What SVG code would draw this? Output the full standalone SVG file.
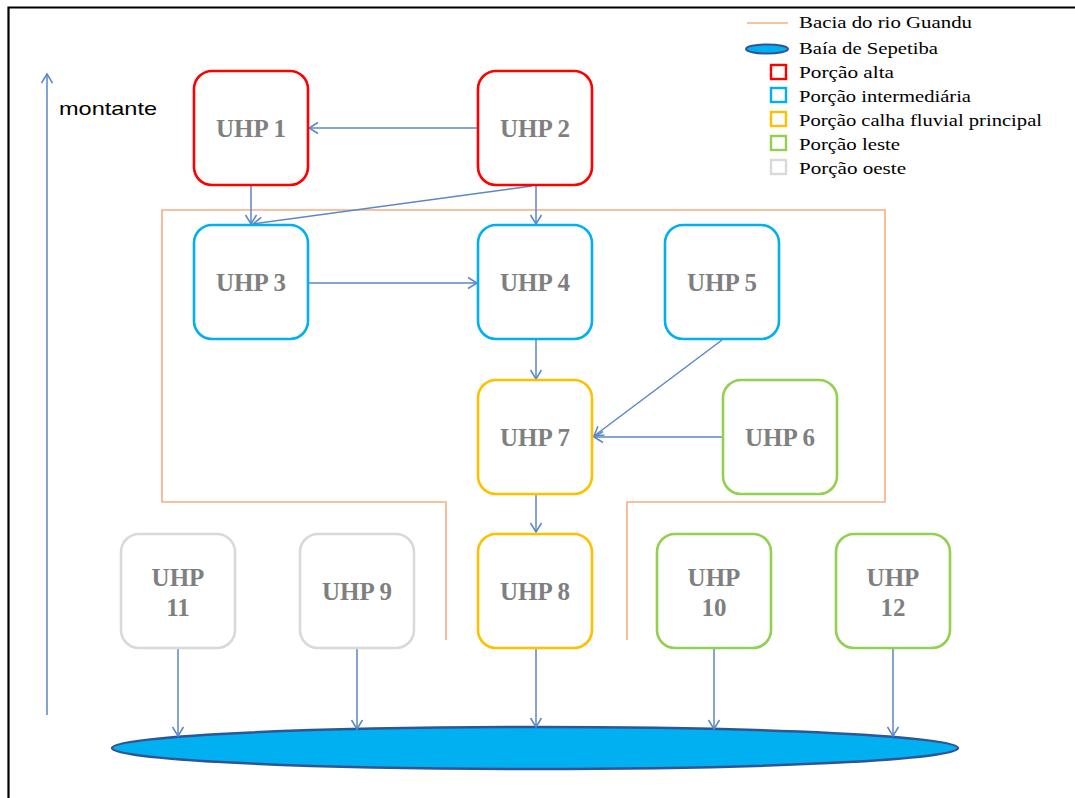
<svg xmlns="http://www.w3.org/2000/svg" width="1075" height="798" viewBox="0 0 1075 798">
<defs>
<style>
.node{fill:#fff;stroke-width:2.6}
.red{stroke:#FF0000}.blue{stroke:#00B0F0}.yel{stroke:#FFC000}.grn{stroke:#92D050}.gry{stroke:#D9D9D9}
.lbl{font-family:"Liberation Serif","Times New Roman",serif;font-weight:bold;font-size:25px;fill:#7F7F7F;text-anchor:middle}
.leg{font-family:"Liberation Serif","Times New Roman",serif;font-size:17px;fill:#000}
.con{stroke:#5A87C8;stroke-width:1.5;fill:none;marker-end:url(#ah)}
.sq{fill:#fff;stroke-width:2.4}
</style>
<marker id="ah" markerUnits="userSpaceOnUse" markerWidth="14" markerHeight="14" viewBox="-12 -7 14 14" refX="0" refY="0" orient="auto">
<path d="M-9,-5.5 L0,0 L-9,5.5" fill="none" stroke="#5A87C8" stroke-width="1.5"/>
</marker>
</defs>
<rect width="1075" height="798" fill="#fff"/>
<g id="frame" stroke="#000" stroke-width="2.2" fill="none">
<path d="M8.5,798 L8.5,7.5 L1075,7.5"/>
</g>
<g id="basin" fill="none" stroke="#F8AE80" stroke-width="1.6">
<path d="M446,640 L446,502 L162,502 L162,210 L885,210 L885,502 L627,502 L627,640"/>
</g>
<g id="montante">
<line x1="47" y1="715" x2="47" y2="74" class="con"/>
<text x="59" y="115" font-family="'Liberation Sans',Arial,sans-serif" font-size="19" fill="#000" textLength="98" lengthAdjust="spacingAndGlyphs">montante</text>
</g>
<g id="bay">
<ellipse cx="535" cy="748" rx="423" ry="21" fill="#00B0F0" stroke="#2F5597" stroke-width="2.5"/>
</g>
<g id="connectors">
<line class="con" x1="478" y1="128" x2="309" y2="128"/>
<line class="con" x1="251" y1="185" x2="251" y2="224"/>
<line class="con" x1="532" y1="186" x2="253" y2="224"/>
<line class="con" x1="536" y1="186" x2="536" y2="224"/>
<line class="con" x1="308" y1="283" x2="477" y2="283"/>
<line class="con" x1="536" y1="339" x2="536" y2="379"/>
<line class="con" x1="722" y1="340" x2="594" y2="436"/>
<line class="con" x1="723" y1="437" x2="594" y2="437"/>
<line class="con" x1="536" y1="494" x2="536" y2="532"/>
<line class="con" x1="178" y1="648" x2="178" y2="736"/>
<line class="con" x1="357" y1="648" x2="357" y2="729"/>
<line class="con" x1="536" y1="648" x2="536" y2="727"/>
<line class="con" x1="714" y1="648" x2="714" y2="729"/>
<line class="con" x1="893" y1="648" x2="893" y2="736"/>
</g>
<g id="uhp1"><rect class="node red" x="194" y="71" width="114" height="114" rx="18"/><text class="lbl" x="251" y="137">UHP 1</text></g>
<g id="uhp2"><rect class="node red" x="478" y="71" width="114" height="114" rx="18"/><text class="lbl" x="535" y="137">UHP 2</text></g>
<g id="uhp3"><rect class="node blue" x="194" y="225" width="114" height="114" rx="18"/><text class="lbl" x="251" y="291">UHP 3</text></g>
<g id="uhp4"><rect class="node blue" x="478" y="225" width="114" height="114" rx="18"/><text class="lbl" x="535" y="291">UHP 4</text></g>
<g id="uhp5"><rect class="node blue" x="665" y="225" width="114" height="114" rx="18"/><text class="lbl" x="722" y="291">UHP 5</text></g>
<g id="uhp7"><rect class="node yel" x="478" y="380" width="114" height="114" rx="18"/><text class="lbl" x="535" y="446">UHP 7</text></g>
<g id="uhp6"><rect class="node grn" x="723" y="380" width="114" height="114" rx="18"/><text class="lbl" x="780" y="446">UHP 6</text></g>
<g id="uhp8"><rect class="node yel" x="478" y="534" width="114" height="114" rx="18"/><text class="lbl" x="535" y="600">UHP 8</text></g>
<g id="uhp11"><rect class="node gry" x="121" y="534" width="114" height="114" rx="18"/><text class="lbl" x="178" y="586">UHP</text><text class="lbl" x="178" y="616">11</text></g>
<g id="uhp9"><rect class="node gry" x="300" y="534" width="114" height="114" rx="18"/><text class="lbl" x="357" y="600">UHP 9</text></g>
<g id="uhp10"><rect class="node grn" x="657" y="534" width="114" height="114" rx="18"/><text class="lbl" x="714" y="586">UHP</text><text class="lbl" x="714" y="616">10</text></g>
<g id="uhp12"><rect class="node grn" x="836" y="534" width="114" height="114" rx="18"/><text class="lbl" x="893" y="586">UHP</text><text class="lbl" x="893" y="616">12</text></g>
<g id="legend">
<line x1="747" y1="23" x2="788" y2="23" stroke="#F8AE80" stroke-width="1.6"/>
<text class="leg" x="799" y="28" textLength="173" lengthAdjust="spacingAndGlyphs">Bacia do rio Guandu</text>
<ellipse cx="767" cy="49" rx="21" ry="4.5" fill="#00B0F0" stroke="#2F5597" stroke-width="2"/>
<text class="leg" x="799" y="54" textLength="139" lengthAdjust="spacingAndGlyphs">Baía de Sepetiba</text>
<rect class="sq red" x="771" y="65" width="15" height="14"/>
<text class="leg" x="799" y="78" textLength="95" lengthAdjust="spacingAndGlyphs">Porção alta</text>
<rect class="sq blue" x="771" y="88" width="15" height="14"/>
<text class="leg" x="799" y="102" textLength="172" lengthAdjust="spacingAndGlyphs">Porção intermediária</text>
<rect class="sq yel" x="771" y="112" width="15" height="14"/>
<text class="leg" x="799" y="126" textLength="243" lengthAdjust="spacingAndGlyphs">Porção calha fluvial principal</text>
<rect class="sq grn" x="771" y="136" width="15" height="14"/>
<text class="leg" x="799" y="150" textLength="101" lengthAdjust="spacingAndGlyphs">Porção leste</text>
<rect class="sq gry" x="771" y="160" width="15" height="14"/>
<text class="leg" x="799" y="174" textLength="107" lengthAdjust="spacingAndGlyphs">Porção oeste</text>
</g>
</svg>
